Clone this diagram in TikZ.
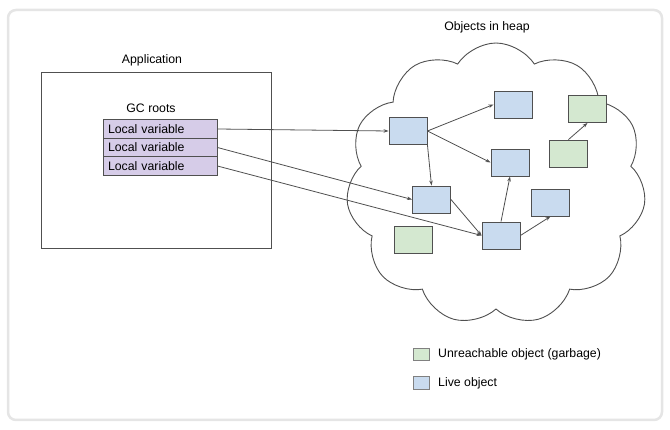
\documentclass[tikz,border=0pt]{standalone}
\usepackage{fontspec}
\setmainfont{Liberation Sans}
\usetikzlibrary{shapes.symbols,arrows.meta}
\definecolor{vivo}{HTML}{C9DBEF}
\definecolor{basura}{HTML}{D4E8D0}
\definecolor{raiz}{HTML}{D6CCE8}
\definecolor{linea}{HTML}{505050}
\begin{document}
\begin{tikzpicture}[x=1pt,y=-1pt,font=\fontsize{12.3}{14}\selectfont,
  obj/.style={rectangle,draw=linea,line width=0.9pt,minimum width=38pt,minimum height=27pt,inner sep=0pt},
  live/.style={obj,fill=vivo},
  garbage/.style={obj,fill=basura},
  lv/.style={rectangle,draw=linea,line width=0.9pt,fill=raiz,minimum height=18.5pt,text width=104pt,inner xsep=5pt,inner ysep=0pt,align=left},
  key/.style={rectangle,draw=gray,line width=0.9pt,minimum width=16pt,minimum height=12.5pt,inner sep=0pt},
  ref/.style={draw=linea,line width=0.8pt,-{Stealth[length=5pt,width=3.5pt]}}]
  \useasboundingbox (0,0) rectangle (670,430);
  % Marco
  \draw[rounded corners=8pt,draw=black!10,line width=2.5pt,fill=white] (8,10) rectangle (662,420);

  % Aplicacion
  \node (app) [draw=linea,line width=0.9pt,minimum width=230pt,minimum height=176pt,inner sep=0pt] at (156,160) {};
  \node (apptitle) at (152,60) {Application};
  \node (gctitle) at (151,108) {GC roots};
  \node (lv1) [lv] at (160,129) {Local variable};
  \node (lv2) [lv] at (160,147.5) {Local variable};
  \node (lv3) [lv] at (160,166) {Local variable};

  % Heap
  \node (heap) [cloud,draw=linea,line width=0.9pt,cloud puffs=11,cloud puff arc=115,minimum width=300pt,minimum height=282pt] at (496,184) {};
  \node (heaptitle) at (487,27) {Objects in heap};

  % Objetos
  \node (a) [live] at (408,131) {};
  \node (b) [live] at (513,104.5) {};
  \node (c) [live] at (510,162.5) {};
  \node (d) [live] at (431.5,199.5) {};
  \node (e) [live] at (501,235.5) {};
  \node (f) [live] at (550.5,202.5) {};
  \node (g1) [garbage] at (587.5,109) {};
  \node (g2) [garbage] at (568.5,153.5) {};
  \node (g3) [garbage] at (413,239.5) {};

  % Referencias
  \foreach \from/\to in {lv1.east/a.west, lv2.east/d.west, lv3.east/e.west, a.east/b.west, a.east/c.west,
      a.south east/d.north, d.east/e.west, e.north/c.south, e.east/f.south, g2.north/g1.south}
    \draw[ref] (\from) -- (\to);

  % Leyenda
  \node (k1) [key,fill=basura] at (421,354.5) {};
  \node (k1t) [anchor=west,inner sep=0pt] at (438,354.5) {Unreachable object (garbage)};
  \node (k2) [key,fill=vivo] at (421,383) {};
  \node (k2t) [anchor=west,inner sep=0pt] at (438,383) {Live object};
\end{tikzpicture}
\end{document}
